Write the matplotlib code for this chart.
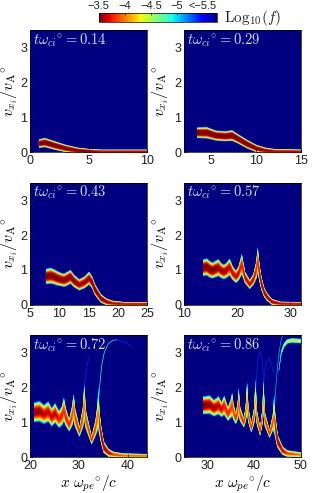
import matplotlib
matplotlib.use('Agg')
import matplotlib.pyplot as plt
import numpy as np
from matplotlib.cm import ScalarMappable
from matplotlib.colors import Normalize

plt.rcParams['font.family'] = ['Liberation Sans', 'DejaVu Sans']
plt.rcParams['mathtext.fontset'] = 'cm'

# panel labels and axes
times = ['0.14', '0.29', '0.43', '0.57', '0.72', '0.86']
xlims = [(0, 10), (2, 15), (5, 25), (10, 32), (20, 44), (25, 50)]
xticks = [[0, 5, 10], [5, 10, 15], [5, 10, 15, 20, 25], [10, 20, 30], [20, 30, 40], [30, 40, 50]]
yticks = [0, 1, 2, 3]
cbar_ticks = [-3.5, -4, -4.5, -5, -5.5]
cbar_labels = ['\u22123.5', '\u22124', '\u22124.5', '\u22125', '<\u22125.5']

# ridge of the beam: x, v, half thickness, peak log10(f)
x1 = [0.7, 1.2, 2, 3, 4, 5, 6, 8, 10]
v1 = [0.27, 0.3, 0.22, 0.13, 0.07, 0.05, 0.04, 0.04, 0.04]
d1 = [0.13, 0.14, 0.13, 0.11, 0.09, 0.07, 0.06, 0.06, 0.06]
p1 = [-3.4, -3.3, -3.3, -3.3, -3.4, -3.5, -3.6, -3.6, -3.6]

x2 = [3.4, 4.5, 5.5, 6.5, 7.3, 8, 9, 10, 11, 12, 15]
v2 = [0.58, 0.58, 0.5, 0.48, 0.5, 0.4, 0.25, 0.13, 0.07, 0.05, 0.04]
d2 = [0.16, 0.17, 0.15, 0.15, 0.16, 0.14, 0.13, 0.11, 0.09, 0.07, 0.06]
p2 = [-3.3, -3.3, -3.3, -3.3, -3.3, -3.3, -3.3, -3.4, -3.5, -3.6, -3.6]

x3 = [7.6, 8.4, 9, 9.5, 10.2, 10.7, 11.2, 11.8, 12.4, 13.3, 14.2, 15, 15.5, 16, 17, 18, 19, 21, 25]
v3 = [0.83, 0.85, 0.82, 0.78, 0.74, 0.72, 0.76, 0.82, 0.7, 0.59, 0.66, 0.78, 0.66, 0.45, 0.2, 0.1, 0.06, 0.04, 0.04]
d3 = [0.23, 0.24, 0.23, 0.22, 0.2, 0.2, 0.21, 0.21, 0.19, 0.17, 0.18, 0.2, 0.18, 0.17, 0.13, 0.1, 0.08, 0.06, 0.06]
p3 = [-3.4, -3.4, -3.4, -3.4, -3.4, -3.4, -3.4, -3.4, -3.4, -3.5, -3.5, -3.5, -3.4, -3.4, -3.4, -3.5, -3.6, -3.6, -3.6]

x4 = [13.5, 14.2, 14.8, 15.3, 15.8, 16.4, 16.9, 17.4, 17.9, 18.5, 19.1, 19.7, 20.2, 20.8, 21.4, 22.3, 23, 23.5, 23.8, 24.1, 24.5, 25, 25.5, 26.5, 28, 32]
v4 = [1.08, 1.1, 1.03, 1.0, 1.04, 1.08, 1.0, 0.96, 1.0, 1.1, 0.92, 0.82, 0.92, 1.18, 0.8, 0.6, 0.75, 1.0, 1.3, 0.95, 0.62, 0.38, 0.25, 0.1, 0.05, 0.04]
d4 = [0.25, 0.26, 0.25, 0.24, 0.25, 0.26, 0.23, 0.22, 0.23, 0.26, 0.21, 0.19, 0.22, 0.32, 0.18, 0.14, 0.17, 0.27, 0.4, 0.28, 0.2, 0.15, 0.12, 0.09, 0.06, 0.06]
p4 = [-3.4, -3.4, -3.4, -3.4, -3.4, -3.5, -3.5, -3.5, -3.5, -3.6, -3.6, -3.6, -3.6, -3.7, -3.6, -3.6, -3.6, -3.7, -3.8, -3.6, -3.5, -3.5, -3.5, -3.5, -3.6, -3.6]

x5 = [20.7, 21.8, 22.7, 23.6, 24.3, 25, 25.8, 26.4, 26.8, 27.2, 27.9, 28.5, 28.8, 29.1, 30, 30.7, 31, 31.3, 32.5, 33.3, 33.7, 33.9, 34.1, 34.5, 35, 36, 37, 39, 44]
v5 = [1.3, 1.33, 1.24, 1.32, 1.16, 1.28, 1.1, 1.2, 1.38, 1.16, 0.93, 1.2, 1.45, 1.15, 0.74, 1.15, 1.6, 1.1, 0.5, 0.85, 1.15, 1.4, 1.0, 0.62, 0.3, 0.14, 0.09, 0.06, 0.05]
d5 = [0.3, 0.31, 0.29, 0.31, 0.28, 0.3, 0.26, 0.3, 0.37, 0.28, 0.19, 0.32, 0.42, 0.3, 0.15, 0.32, 0.6, 0.3, 0.13, 0.25, 0.42, 0.7, 0.38, 0.26, 0.18, 0.12, 0.09, 0.07, 0.06]
p5 = [-3.5, -3.5, -3.6, -3.6, -3.6, -3.6, -3.7, -3.7, -3.8, -3.7, -3.7, -3.8, -3.9, -3.8, -3.7, -3.8, -4.0, -3.8, -3.7, -3.8, -3.9, -4.2, -3.7, -3.5, -3.5, -3.6, -3.8, -3.9, -3.9]

x6 = [29, 30.4, 31.3, 32.3, 32.9, 33.5, 34.3, 34.9, 35.2, 35.5, 36, 36.4, 36.6, 36.9, 37.7, 38.1, 38.4, 38.7, 39.3, 39.9, 40.2, 40.5, 41.2, 41.7, 41.9, 42.2, 43.2, 43.9, 44.2, 44.4, 44.7, 45, 46, 47, 50]
v6 = [1.5, 1.52, 1.42, 1.5, 1.38, 1.5, 1.25, 1.4, 1.52, 1.3, 1.12, 1.35, 1.6, 1.25, 1.0, 1.25, 1.7, 1.2, 0.85, 1.2, 1.75, 1.15, 0.75, 1.2, 1.75, 1.1, 0.68, 1.0, 1.25, 0.95, 0.65, 0.45, 0.2, 0.12, 0.08]
d6 = [0.27, 0.28, 0.25, 0.28, 0.23, 0.3, 0.21, 0.29, 0.37, 0.25, 0.17, 0.28, 0.44, 0.23, 0.14, 0.25, 0.52, 0.23, 0.14, 0.25, 0.57, 0.23, 0.13, 0.25, 0.57, 0.23, 0.12, 0.25, 0.63, 0.38, 0.28, 0.2, 0.13, 0.1, 0.08]
p6 = [-3.4, -3.5, -3.5, -3.6, -3.6, -3.7, -3.7, -3.8, -3.8, -3.8, -3.7, -3.8, -3.9, -3.8, -3.7, -3.8, -4.1, -3.8, -3.7, -3.8, -4.2, -3.8, -3.7, -3.8, -4.2, -3.8, -3.7, -3.8, -4.2, -3.7, -3.5, -3.5, -3.6, -3.8, -4.0]

ridges = [(x1, v1, d1, p1), (x2, v2, d2, p2), (x3, v3, d3, p3),
          (x4, v4, d4, p4), (x5, v5, d5, p5), (x6, v6, d6, p6)]

# thin filaments above the beam: x, v, log10(f)
filaments = [
    [],
    [],
    [],
    [],
    [([31.0, 31.3, 31.6, 32.0], [2.0, 2.25, 2.55, 2.85], -5.4),
     ([34.0, 34.3, 34.7, 35.2, 36, 37, 37.8], [1.6, 2.1, 2.65, 3.0, 3.25, 3.35, 3.36], -4.9),
     ([37.8, 39, 40, 41], [3.36, 3.32, 3.25, 3.15], -5.4)],
    [([40.4, 40.7, 41.2, 41.7, 42.0], [2.0, 2.7, 3.05, 2.85, 2.2], -5.4),
     ([42.1, 42.5, 43.2, 43.8, 44.3], [2.2, 2.65, 2.85, 2.65, 2.35], -5.4),
     ([44.4, 44.7, 45.2, 45.7, 46.1], [1.5, 2.1, 2.85, 3.3, 3.5], -5.1)],
]

# bright plateau at the top right of the last panel
top_x = [45.2, 45.7, 46.3, 47, 48, 50]
top_v = [2.5, 3.0, 3.22, 3.33, 3.36, 3.34]
top_d = [0.06, 0.07, 0.07, 0.07, 0.07, 0.07]
top_p = [-4.9, -4.7, -4.5, -4.4, -4.4, -4.4]

cmap = plt.get_cmap('jet')
vmin, vmax = -5.77, -3.5
norm = Normalize(vmin, vmax)


def draw_band(ax, x, v, d, p):
    x, v, d, p = map(np.array, (x, v, d, p))
    # nested fills from faint to strong
    for lev in np.linspace(-5.55, -3.35, 23):
        half = d * np.clip((p - lev) / (p + 5.55), 0, 1) ** 0.4
        ax.fill_between(x, v - half, v + half, color=cmap(norm(lev)), lw=0)


fig = plt.figure(figsize=(3.16, 4.93), dpi=100)
W, H = 316.0, 493.0
lefts = [30.3, 184]
tops = [30.3, 182.7, 335]
aw, ah = 116.8, 122.2

for i in range(6):
    col = i % 2
    row = i // 2
    ax = fig.add_axes([lefts[col] / W, 1 - (tops[row] + ah) / H, aw / W, ah / H])
    ax.set_facecolor(cmap(norm(vmin)))
    draw_band(ax, *ridges[i])
    for fx, fv, flev in filaments[i]:
        ax.plot(fx, fv, color=cmap(norm(flev)), lw=0.5)
    if i == 5:
        draw_band(ax, top_x, top_v, top_d, top_p)
    ax.set_xlim(xlims[i])
    ax.set_ylim(0, 3.5)
    ax.set_xticks(xticks[i])
    ax.set_yticks(yticks)
    ax.tick_params(labelsize=9, length=2, width=0.5, direction='in', pad=2, colors='#222222')
    for s in ax.spines.values():
        s.set_linewidth(0.5)
    ax.text(0.025, 0.92, r'$t\omega_{ci}{}^{\circ} = %s$' % times[i], transform=ax.transAxes,
            color='#d8dce8', fontsize=10.5, va='center')
    ax.set_ylabel(r'$v_{x_i}/v_{\mathrm{A}}{}^{\circ}$', fontsize=11.5)
    ax.yaxis.set_label_coords(-0.09 if col == 0 else -0.115, 0.5)
    if row == 2:
        ax.set_xlabel(r'$x\ \omega_{pe}{}^{\circ}/c$', fontsize=11, labelpad=1)

# colour bar along the top
cax = fig.add_axes([98.7 / W, 1 - 22.3 / H, 118.3 / W, 9 / H])
sm = ScalarMappable(norm=Normalize(vmin, vmax), cmap='jet')
cb = fig.colorbar(sm, cax=cax, orientation='horizontal')
cax.invert_xaxis()
cb.set_ticks(cbar_ticks)
cb.set_ticklabels(cbar_labels)
cax.xaxis.set_ticks_position('top')
cax.tick_params(labelsize=8, length=1.5, width=0.5, direction='in', pad=1.5, colors='#222222')
cb.outline.set_linewidth(0.5)
fig.text(224 / W, 1 - 18 / H, r'$\mathrm{Log}_{10}(f)$', fontsize=11, va='center', color='#222222')

plt.savefig('out.png', dpi=100)
